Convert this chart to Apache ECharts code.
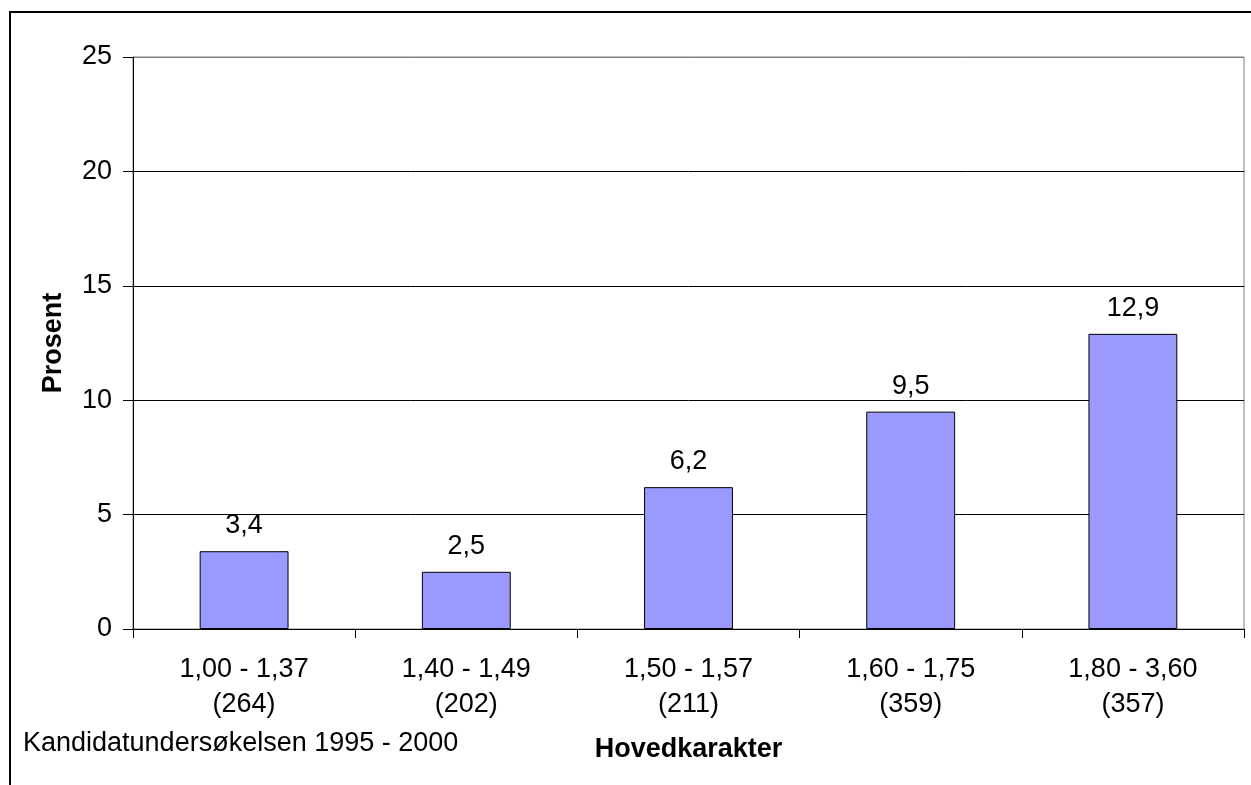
<!DOCTYPE html>
<html>
<head>
<meta charset="utf-8">
<title>Hovedkarakter</title>
<script src="https://cdn.jsdelivr.net/npm/echarts@6/dist/echarts.min.js"></script>
<style>
  html, body { margin: 0; padding: 0; background: #fff; }
  #chart { width: 1251px; height: 785px; }
</style>
</head>
<body>
<div id="chart"></div>
<script>
// data
const categories = ['1,00 - 1,37', '1,40 - 1,49', '1,50 - 1,57', '1,60 - 1,75', '1,80 - 3,60'];
const counts = ['(264)', '(202)', '(211)', '(359)', '(357)'];
const prosent = [3.4, 2.5, 6.2, 9.5, 12.9];
const yTicks = [0, 5, 10, 15, 20, 25];

const FONT = '"Liberation Sans", Arial, sans-serif';
const FS = 27;

const chart = echarts.init(document.getElementById('chart'));

const option = {
  animation: false,
  textStyle: { fontFamily: FONT, color: '#000' },
  grid: {
    left: 133,
    right: 7,
    top: 57,
    bottom: 156,
    show: true,
    borderColor: '#808080',
    borderWidth: 1
  },
  xAxis: {
    type: 'category',
    data: categories.map((c, i) => c + '\n' + counts[i]),
    name: 'Hovedkarakter',
    nameLocation: 'middle',
    nameGap: 107,
    nameTextStyle: { fontFamily: FONT, fontSize: FS, fontWeight: 'bold', color: '#000' },
    axisLine: { lineStyle: { color: '#000', width: 1 } },
    axisTick: { show: true, length: 9, lineStyle: { color: '#000' } },
    axisLabel: {
      margin: 23,
      fontFamily: FONT,
      fontSize: FS,
      lineHeight: 35,
      color: '#000',
      interval: 0
    }
  },
  yAxis: {
    type: 'value',
    min: yTicks[0],
    max: yTicks[yTicks.length - 1],
    interval: 5,
    name: 'Prosent',
    nameLocation: 'middle',
    nameGap: 66,
    nameRotate: 90,
    nameTextStyle: { fontFamily: FONT, fontSize: FS, fontWeight: 'bold', color: '#000' },
    axisLine: { show: true, lineStyle: { color: '#000', width: 1 } },
    axisTick: { show: true, length: 10, lineStyle: { color: '#000' } },
    axisLabel: { margin: 21, fontFamily: FONT, fontSize: FS, color: '#000' },
    splitLine: {
      show: true,
      lineStyle: { color: ['#000', '#000', '#000', '#000', '#000', '#808080'], width: 1 }
    }
  },
  series: [
    {
      type: 'bar',
      data: prosent,
      barWidth: '40%',
      itemStyle: { color: '#9999FF', borderColor: '#000', borderWidth: 1 },
      label: {
        show: true,
        position: 'top',
        distance: 12,
        fontFamily: FONT,
        fontSize: FS,
        color: '#000',
        formatter: (p) => String(p.value).replace('.', ',')
      }
    }
  ],
  graphic: [
    {
      type: 'polyline',
      shape: { points: [[10, 800], [10, 12], [1260, 12]] },
      style: { stroke: '#000', lineWidth: 2, fill: null }
    },
    {
      type: 'text',
      left: 23,
      top: 730,
      style: {
        text: 'Kandidatundersøkelsen 1995 - 2000',
        font: FS + 'px ' + FONT,
        fill: '#000'
      }
    }
  ]
};

chart.setOption(option);
window.addEventListener('resize', () => chart.resize());
</script>
</body>
</html>
